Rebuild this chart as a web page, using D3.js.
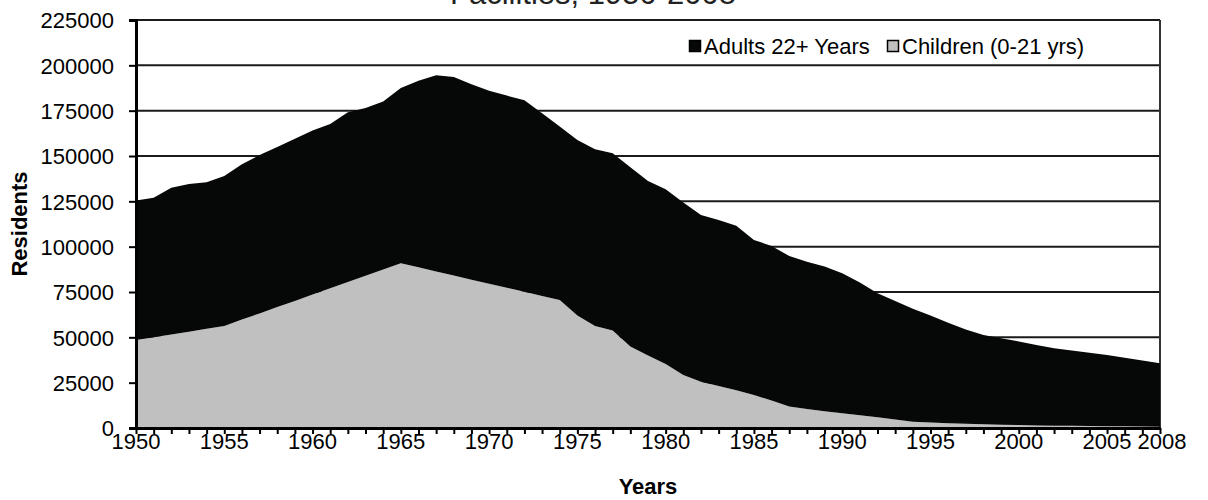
<!DOCTYPE html>
<html>
<head>
<meta charset="utf-8">
<script src="https://cdn.jsdelivr.net/npm/d3@7"></script>
<style>
    body { margin: 0; background: #fff; }
    svg text { font-family: "Liberation Sans", Arial, sans-serif; fill: #000; }
</style>
</head>
<body>
<script>
    // years 1950..2008
    var years = [1950,1951,1952,1953,1954,1955,1956,1957,1958,1959,
                 1960,1961,1962,1963,1964,1965,1966,1967,1968,1969,
                 1970,1971,1972,1973,1974,1975,1976,1977,1978,1979,
                 1980,1981,1982,1983,1984,1985,1986,1987,1988,1989,
                 1990,1991,1992,1993,1994,1995,1996,1997,1998,1999,
                 2000,2001,2002,2003,2004,2005,2006,2007,2008];

    var children = [48500,50000,51600,53100,54700,56300,59800,63200,66700,70100,
                    73600,77000,80500,83900,87400,90800,88600,86300,84100,81800,
                    79600,77300,75100,72800,70600,62000,56300,53700,44900,40000,
                    35300,29200,25500,23200,20800,18200,15100,11800,10500,9300,
                    8100,7000,5900,4700,3500,3000,2600,2300,2000,1800,
                    1600,1400,1300,1200,1100,1000,900,800,700];

    var adults = [77000,77000,80900,81400,80800,82700,85700,87300,88300,89400,
                  90400,90700,93600,92600,92600,96700,102900,108200,109400,107700,
                  106400,106000,105600,100800,95700,96800,97400,97800,98900,96200,
                  96300,95100,92000,91500,90800,85500,85300,83100,81200,79700,
                  77200,73300,68400,65300,62300,59000,55400,52000,49300,47700,
                  46100,44400,42700,41600,40400,39300,37800,36400,35000];

    var xLabels = [1950,1955,1960,1965,1970,1975,1980,1985,1990,1995,2000,2005,2008];
    var yTicks = [0,25000,50000,75000,100000,125000,150000,175000,200000,225000];

    var W = 1208, H = 500;
    var pLeft = 136, pRight = 1160, pTop = 20, pBottom = 428;

    var svg = d3.select("body").append("svg")
        .attr("width", W)
        .attr("height", H);

    var x = d3.scaleLinear().domain([1950, 2008]).range([pLeft, pRight]);
    var y = d3.scaleLinear().domain([0, 225000]).range([pBottom, pTop]);

    // title (only its last line shows at the top edge)
    svg.append("text")
        .attr("x", 593)
        .attr("y", 4)
        .attr("text-anchor", "middle")
        .style("font-size", "31px")
        .style("fill", "#222")
        .text("Facilities, 1950-2008");

    // gridlines
    svg.append("g")
        .selectAll("line")
        .data(yTicks.slice(1))
        .enter()
        .append("line")
        .attr("x1", pLeft)
        .attr("x2", pRight)
        .attr("y1", function(d){ return y(d); })
        .attr("y2", function(d){ return y(d); })
        .attr("stroke", "#1a1a1a")
        .attr("stroke-width", 2);

    // right border
    svg.append("line")
        .attr("x1", pRight).attr("x2", pRight)
        .attr("y1", pTop).attr("y2", pBottom)
        .attr("stroke", "#333")
        .attr("stroke-width", 2);

    var table = [];
    for (var i = 0; i < years.length; i++) {
        table.push({ year: years[i], children: children[i], adults: adults[i] });
    }

    var stack = d3.stack().keys(["children", "adults"]);
    var layers = stack(table);
    var colors = { children: "#c0c0c0", adults: "#060808" };

    var area = d3.area()
        .x(function(d){ return x(d.data.year); })
        .y0(function(d){ return y(d[0]); })
        .y1(function(d){ return y(d[1]); });

    svg.append("g")
        .selectAll("path")
        .data(layers)
        .enter()
        .append("path")
        .attr("fill", function(d){ return colors[d.key]; })
        .attr("d", area);

    // y axis
    var yAxis = svg.append("g")
        .attr("transform", "translate(" + pLeft + ",0)")
        .call(d3.axisLeft(y).tickValues(yTicks).tickSize(7).tickPadding(15).tickFormat(d3.format("d")));
    yAxis.select(".domain").attr("stroke", "#000").attr("stroke-width", 3);
    yAxis.selectAll(".tick line").attr("stroke", "#000").attr("stroke-width", 2);
    yAxis.selectAll("text")
        .style("font-size", "22px")
        .attr("dy", "0.35em");

    // x axis, a tick every year
    var xAxis = svg.append("g")
        .attr("transform", "translate(0," + pBottom + ")")
        .call(d3.axisBottom(x).tickValues(years).tickSize(6).tickSizeOuter(0).tickFormat(""));
    xAxis.select(".domain").attr("stroke", "#000").attr("stroke-width", 3);
    xAxis.selectAll(".tick line").attr("stroke", "#000").attr("stroke-width", 2);

    svg.append("g")
        .selectAll("text")
        .data(xLabels)
        .enter()
        .append("text")
        .attr("x", function(d){ return x(d) + (d === 2008 ? 2 : 0); })
        .attr("y", 449)
        .attr("text-anchor", "middle")
        .style("font-size", "22px")
        .text(function(d){ return d; });

    // axis titles
    svg.append("text")
        .attr("x", (pLeft + pRight) / 2)
        .attr("y", 494)
        .attr("text-anchor", "middle")
        .style("font-size", "22px")
        .style("font-weight", "bold")
        .text("Years");

    svg.append("text")
        .attr("transform", "translate(27," + ((pTop + pBottom) / 2) + ") rotate(-90)")
        .attr("text-anchor", "middle")
        .style("font-size", "22px")
        .style("font-weight", "bold")
        .text("Residents");

    // legend
    var legendItems = [
        { name: "Adults 22+ Years", color: colors.adults, x: 689 },
        { name: "Children (0-21 yrs)", color: colors.children, x: 887 }
    ];
    var leg = svg.append("g");
    leg.selectAll("rect")
        .data(legendItems)
        .enter()
        .append("rect")
        .attr("x", function(d){ return d.x + 0.5; })
        .attr("y", 40.5)
        .attr("width", 11)
        .attr("height", 11)
        .attr("fill", function(d){ return d.color; })
        .attr("stroke", "#000")
        .attr("stroke-width", 1.5);
    leg.selectAll("text")
        .data(legendItems)
        .enter()
        .append("text")
        .attr("x", function(d){ return d.x + 15; })
        .attr("y", 54)
        .style("font-size", "22px")
        .text(function(d){ return d.name; });
</script>
</body>
</html>
